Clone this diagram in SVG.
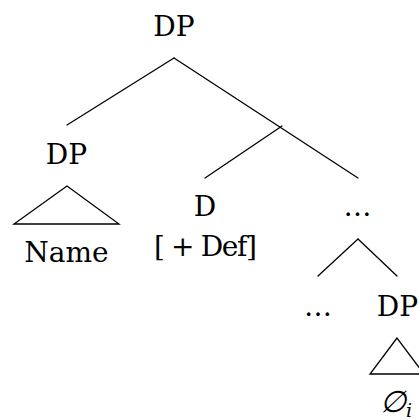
<svg xmlns="http://www.w3.org/2000/svg" width="419" height="420" viewBox="0 0 419 420">
<style>
text{font-family:"DejaVu Serif","Liberation Serif",serif;font-size:28px;fill:#000;text-anchor:middle}
.e{stroke:#000;stroke-width:1.3;fill:none;stroke-linecap:round;stroke-linejoin:miter}
</style>
<rect width="419" height="420" fill="#fff"/>
<g id="edges">
<line class="e" x1="174" y1="58" x2="67" y2="125"/>
<line class="e" x1="174" y1="58" x2="358" y2="178"/>
<line class="e" x1="282" y1="126" x2="205" y2="178"/>
<line class="e" x1="358" y1="239" x2="318" y2="276"/>
<line class="e" x1="358" y1="239" x2="397" y2="276"/>
</g>
<g id="root"><text x="174" y="36">DP</text></g>
<g id="dp-left"><text x="66.5" y="164">DP</text>
<polygon class="e" points="67,186 14,224 119,224"/>
<text x="66.5" y="262">Name</text></g>
<g id="d"><text x="205" y="216">D</text><text x="205.5" y="256" textLength="103" lengthAdjust="spacing">[ + Def]</text></g>
<g id="dots-top"><text x="357.5" y="216">…</text></g>
<g id="dots-low"><text x="318" y="316">…</text></g>
<g id="dp-low"><text x="397.5" y="316">DP</text>
<polygon class="e" points="397,338 370,374 424,374"/>
<text x="396" y="412"><tspan font-size="30" font-style="italic">∅</tspan><tspan font-size="19" font-style="italic" dy="5">i</tspan></text></g>
</svg>
